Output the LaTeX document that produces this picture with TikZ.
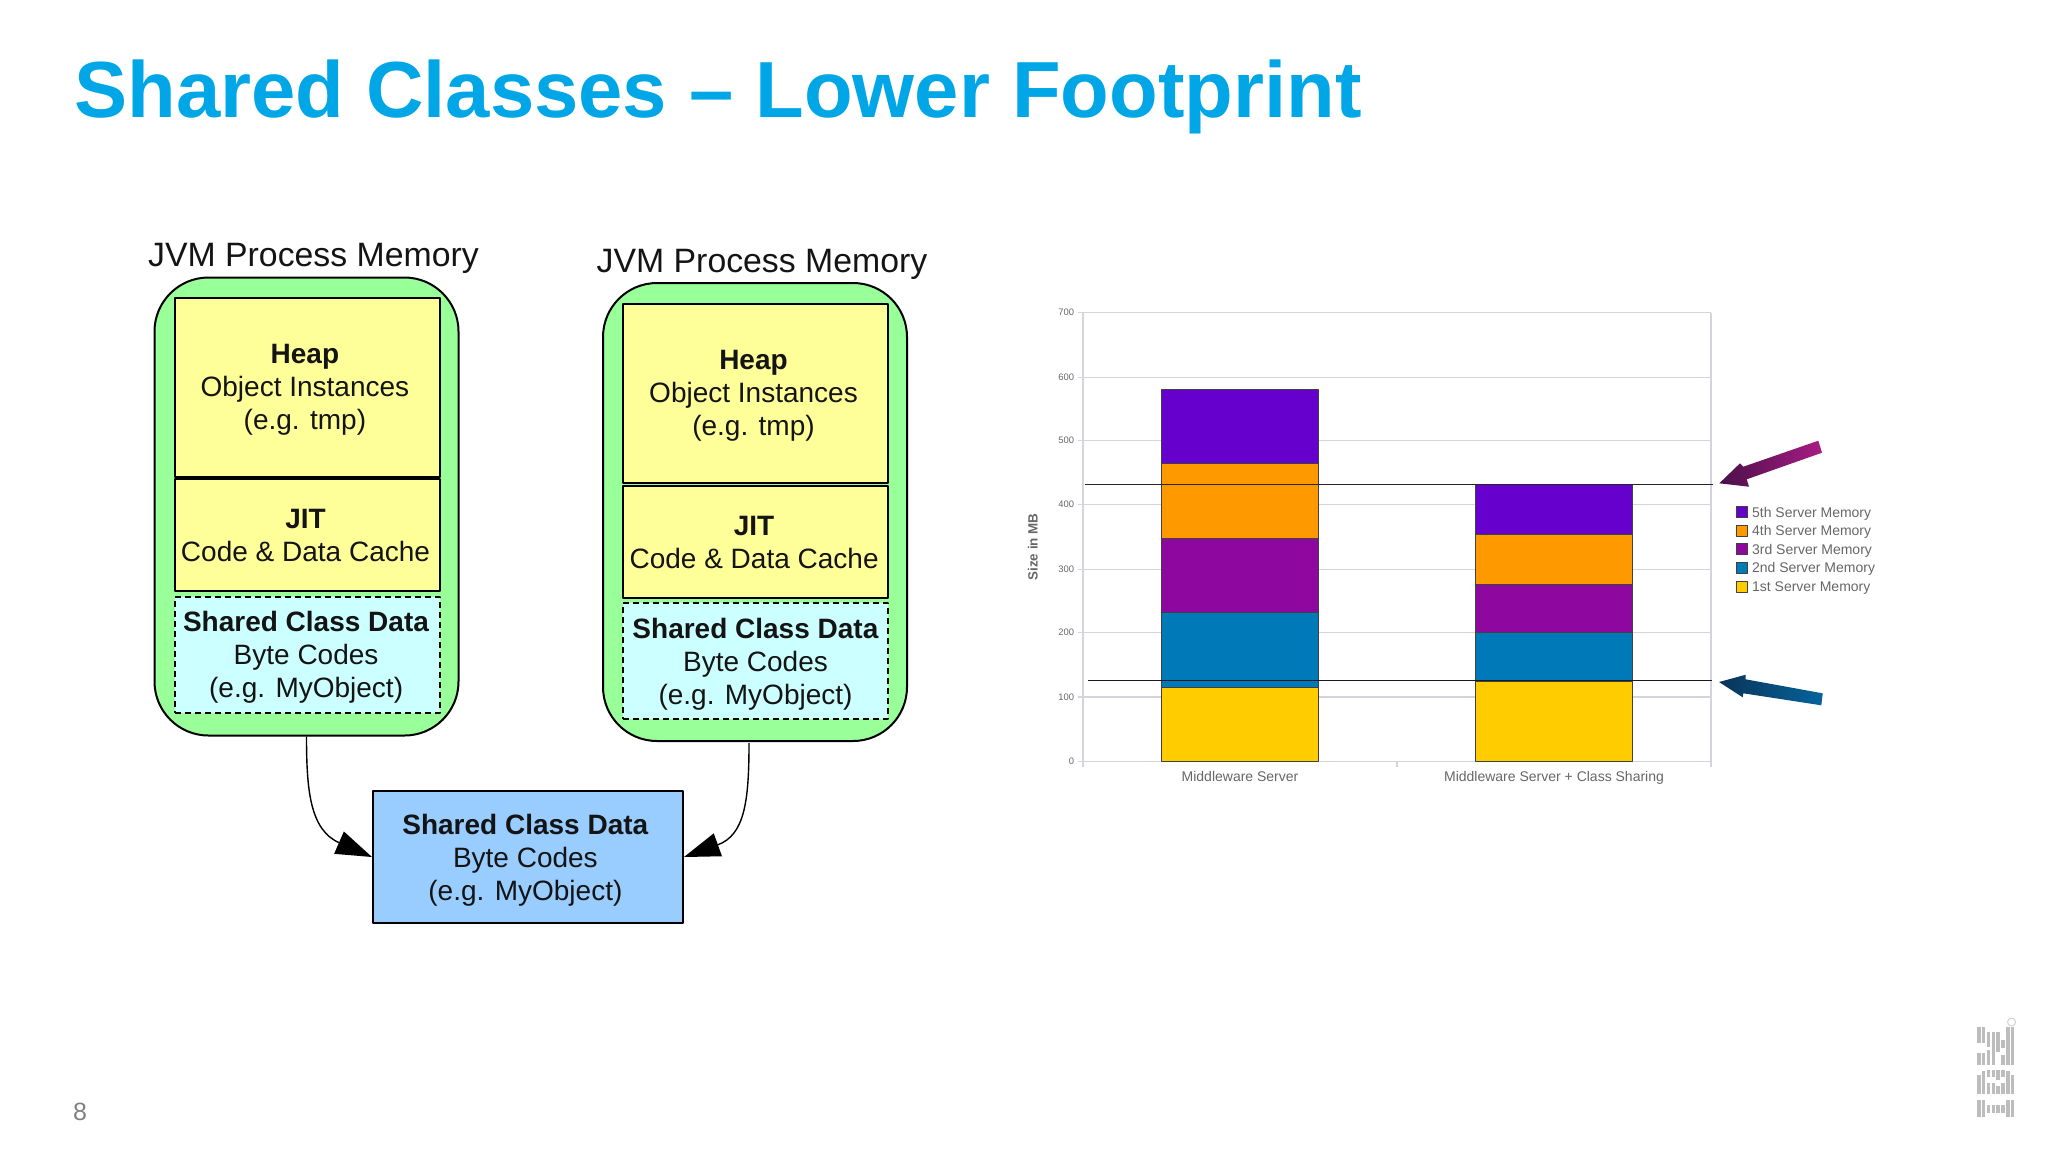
\documentclass[tikz,border=0pt]{standalone}
\usepackage{fontspec}
\setmainfont{Liberation Sans}
\usetikzlibrary{arrows.meta,shadings}
\definecolor{titleblue}{HTML}{00A6E6}
\definecolor{procgreen}{HTML}{99FF99}
\definecolor{heapyellow}{HTML}{FFFF99}
\definecolor{sharedcyan}{HTML}{CCFFFF}
\definecolor{sharedblue}{HTML}{99CCFF}
\definecolor{gridgrey}{HTML}{D4D4DC}
\definecolor{chartgrey}{HTML}{666666}
\definecolor{logogrey}{HTML}{BDBDBD}
\definecolor{srvA}{HTML}{FFCC00}
\definecolor{srvB}{HTML}{0079B8}
\definecolor{srvC}{HTML}{8E08A0}
\definecolor{srvD}{HTML}{FF9900}
\definecolor{srvE}{HTML}{6600CC}
\definecolor{arrowplumA}{HTML}{4A1048}
\definecolor{arrowplumB}{HTML}{A81C84}
\definecolor{arrowblueA}{HTML}{0A3358}
\definecolor{arrowblueB}{HTML}{05649C}
\begin{document}
\begin{tikzpicture}[line join=round,>={Triangle[length=18pt,width=12pt]},x=0.5pt,y=-0.5pt]
	\tikzset{
		box text/.style={align=center,text=black!92,inner sep=0pt,font=\fontsize{14}{16.5}\selectfont},
		box label/.style n args={3}{label={[box text,xshift=#1,yshift=#2]center:{#3}}},
		proc box/.style={draw,line width=1pt,fill=procgreen,rounded corners=27pt,minimum width=152pt,minimum height=229pt},
		heap box/.style={draw,line width=1pt,fill=heapyellow,minimum width=132.5pt,minimum height=89.5pt,inner sep=0pt},
		jit box/.style={draw,line width=1pt,fill=heapyellow,minimum width=132.5pt,minimum height=56pt,inner sep=0pt},
		share box/.style={draw,line width=0.8pt,densely dashed,fill=sharedcyan,minimum width=132.5pt,minimum height=58pt,inner sep=0pt},
		proc title/.style={font=\fontsize{16.9}{20}\selectfont,text=black!92},
		tick text/.style={font=\fontsize{4.7}{6}\selectfont,text=chartgrey,anchor=east,inner sep=0pt},
		chart text/.style={font=\fontsize{7}{8}\selectfont,text=chartgrey,inner sep=0pt},
		flow/.style={->,line width=0.7pt},
		grid line/.style={gridgrey,line width=0.7pt},
		bar seg/.style={draw=black!75,line width=0.5pt},
		logo bar/.style={logogrey,line width=1.6pt}
	}
	\useasboundingbox (0,0) rectangle (2048,1152);
	\node[anchor=base west,inner sep=0pt,text=titleblue,font=\bfseries\fontsize{39.8}{44}\selectfont] (slideTitle) at (74,117) {Shared Classes – Lower Footprint};

	\node[proc box] (procA) at (306.5,506.5) {};
	\node[proc box] (procB) at (755,512) {};
	\node[proc title] (titleA) at (313.5,258) {JVM Process Memory};
	\node[proc title] (titleB) at (762,264) {JVM Process Memory};
	\node[heap box,box label={-1.3pt}{-1.3pt}{\textbf{Heap}\\Object Instances\\(e.g. tmp)}] (heapA) at (307.5,387) {};
	\node[jit box,box label={-1pt}{0pt}{\textbf{JIT}\\Code \& Data Cache}] (jitA) at (307.5,535) {};
	\node[share box,box label={-0.7pt}{-1.3pt}{\textbf{Shared Class Data}\\Byte Codes\\(e.g. MyObject)}] (shareA) at (307.5,655) {};
	\node[heap box,box label={-1pt}{-1.5pt}{\textbf{Heap}\\Object Instances\\(e.g. tmp)}] (heapB) at (755.5,393) {};
	\node[jit box,box label={-0.7pt}{0pt}{\textbf{JIT}\\Code \& Data Cache}] (jitB) at (755.5,542) {};
	\node[share box,box label={0pt}{-1.5pt}{\textbf{Shared Class Data}\\Byte Codes\\(e.g. MyObject)}] (shareB) at (755.5,661) {};
	\node[draw,line width=1pt,fill=sharedblue,minimum width=155pt,minimum height=66pt,inner sep=0pt,box label={-1.3pt}{-1.6pt}{\textbf{Shared Class Data}\\Byte Codes\\(e.g. MyObject)}] (shareMain) at (528,857) {};
	\coordinate (startB) at (749,743);
	\draw[flow] (procA.south) .. controls (306.5,790) and (310,830) .. (shareMain.west);
	\draw[flow] (startB) .. controls (749,800) and (745,835) .. (shareMain.east);

	\foreach \yy/\lab in {312.7/700,377.3/600,440.7/500,504.7/400,569.3/300,632.7/200,697/100,761.7/0}{
		\draw[grid line] (1077.5,\yy) -- (1711,\yy);
		\node[tick text] at (1074.5,\yy) {\lab};
	}
	\draw[grid line] (1083,312.7) -- (1083,767);
	\draw[grid line] (1397,761.7) -- (1397,767);
	\draw[grid line] (1711,312.7) -- (1711,767);
	\foreach \ya/\yb/\colr in {687/761.7/srvA,612.3/687/srvB,538.7/612.3/srvC,463.7/538.7/srvD,389/463.7/srvE}
		\draw[bar seg,fill=\colr] (1161.7,\ya) rectangle (1318.3,\yb);
	\foreach \ya/\yb/\colr in {681.5/761.7/srvA,632.7/681.5/srvB,584/632.7/srvC,534.7/584/srvD,484.3/534.7/srvE}
		\draw[bar seg,fill=\colr] (1475.7,\ya) rectangle (1632.3,\yb);
	\draw[black!85,line width=0.45pt] (1084.7,484) -- (1712.7,484);
	\draw[black!90,line width=0.45pt] (1088,680.5) -- (1711.7,680.5);
	\node[chart text,rotate=90,font=\bfseries\fontsize{6.7}{8}\selectfont] (axisName) at (1032.7,547) {Size in MB};
	\node[chart text,anchor=base] (barLabA) at (1240,781) {Middleware Server};
	\node[chart text,anchor=base] (barLabB) at (1554,781) {Middleware Server + Class Sharing};
	\foreach \n/\yy/\colr/\lab in {5/512.3/srvE/5th,4/530.7/srvD/4th,3/549/srvC/3rd,2/567.7/srvB/2nd,1/586.7/srvA/1st}{
		\node[bar seg,fill=\colr,minimum size=5.6pt,inner sep=0pt] (key\n) at (1742,\yy) {};
		\node[chart text,anchor=base west] (leg\n) at (1751.7,\yy+5) {\lab{} Server Memory};
	}
	\shade[left color=arrowplumA,right color=arrowplumB] (1719.3,483.3) -- (1740,463.3) -- (1743.3,466.7) -- (1818.3,440.7) -- (1822,452.7) -- (1746.7,479.3) -- (1749,486.7) -- cycle;
	\shade[left color=arrowblueA,right color=arrowblueB] (1719,682) -- (1745.7,674.7) -- (1745.7,679.3) -- (1822.7,693.3) -- (1821.3,705.3) -- (1743.3,693.3) -- (1742.7,697.3) -- cycle;

	\node[inner sep=0pt,text=black!50,font=\fontsize{12.5}{14}\selectfont] (pageNo) at (80,1112) {8};
	\foreach \xx/\ya/\yb in {1979/1100/1117,1983.5/1100/1117,1988.5/1105/1113,1993.5/1105/1113,1998/1105/1113,2003/1105/1113,2008/1100/1117,2012.5/1100/1117,
		1979/1075/1094,1983.5/1071/1094,1988.5/1070/1077,1988.5/1083/1094,1993.5/1070/1077,1993.5/1083/1094,1998/1070/1080,1998/1086/1094,2003/1070/1077,2003/1083/1094,2008/1071/1094,2012.5/1075/1094,
		1979/1027/1043,1979/1053/1065,1983.5/1027/1043,1983.5/1053/1065,1988.5/1032/1047,1988.5/1050/1065,1993.5/1032/1065,1998/1032/1052,2003/1040/1048,2003/1055/1065,2008/1027/1065,2012.5/1027/1065}
		\draw[logo bar] (\xx,\ya) -- (\xx,\yb);
	\draw[logogrey!70,line width=0.5pt] (2011.5,1022) circle (4);
\end{tikzpicture}
\end{document}
